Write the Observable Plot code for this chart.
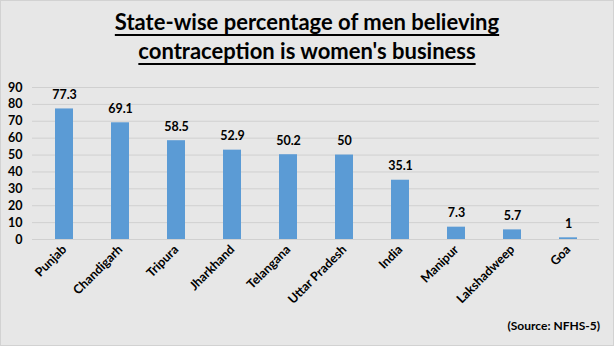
<!DOCTYPE html>
<html><head><meta charset="utf-8">
<script src="https://cdn.jsdelivr.net/npm/d3@7"></script>
<script src="https://cdn.jsdelivr.net/npm/@observablehq/plot@0.6"></script>
<style>
body{margin:0;}
#wrap{width:614px;height:346px;box-sizing:border-box;background:#e7e7e7;border:1px solid #d2d2d2;position:relative;font-family:Lato,"Open Sans",sans-serif;overflow:hidden;}
#title{height:74px;box-sizing:border-box;padding-top:6px;text-align:center;font-weight:bold;font-size:22px;line-height:29px;color:#000;}
#title span{text-decoration:underline;text-decoration-thickness:2px;text-underline-offset:4px;}
#src{position:absolute;right:13px;bottom:12px;font-weight:bold;font-size:12px;color:#000;}
</style></head><body>
<div id="wrap"><div id="title"><span>State-wise percentage of men believing</span><br><span>contraception is women's business</span></div><div id="chart"></div><div id="src">(Source: NFHS-5)</div></div>
<script>
const states = ["Punjab","Chandigarh","Tripura","Jharkhand","Telangana","Uttar Pradesh","India","Manipur","Lakshadweep","Goa"];
const values = [77.3,69.1,58.5,52.9,50.2,50,35.1,7.3,5.7,1];
const yTicks = [0,10,20,30,40,50,60,70,80,90];
const data = states.map((s,i)=>({state:s,value:values[i]}));
const chart = Plot.plot({
  width:612, height:250,
  marginTop:12, marginBottom:86, marginLeft:31, marginRight:14,
  style:{background:"transparent",fontFamily:"Lato, 'Open Sans', sans-serif",fontSize:"12px",fontWeight:"bold",color:"#000"},
  x:{domain:states, paddingInner:0.68, paddingOuter:0.34, align:0.5, label:null},
  y:{domain:[0,90], ticks:yTicks, label:null},
  marks:[
    Plot.gridY(yTicks,{stroke:"#d0d0d0",strokeOpacity:1,strokeWidth:1}),
    Plot.barY(data,{x:"state",y:"value",fill:"#5b9bd5"}),
    Plot.text(data,{x:"state",y:"value",text:d=>String(d.value),dy:-14,fontSize:12.5,fontWeight:"bold",fill:"#000"}),
    Plot.axisY({ticks:yTicks,tickSize:0,tickPadding:10,fontSize:12.5,fontWeight:"bold"}),
    Plot.axisX({tickRotate:-45,tickSize:0,tickPadding:8,fontSize:12.5,fontWeight:"bold"})
  ]
});
document.getElementById("chart").appendChild(chart);
</script></body></html>
